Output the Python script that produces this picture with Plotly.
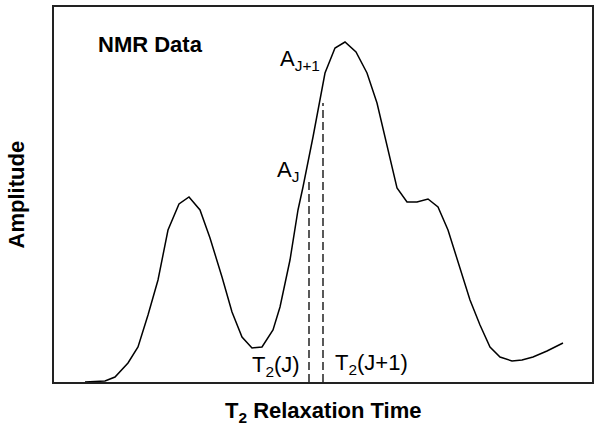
import plotly.graph_objects as go

# T2 relaxation time (arbitrary units) and NMR amplitude (arbitrary units)
t2 = [31, 51, 61, 74, 84, 94, 104, 114, 125, 135, 146, 156, 168, 178, 188, 198, 208,
      219, 226, 236, 244, 249, 259, 271, 281, 291, 302, 313, 323, 333, 343, 353, 363,
      374, 384, 394, 406, 416, 426, 436, 446, 458, 468, 479, 493, 509]
amp = [0, 1, 5, 19, 35, 67, 102, 152, 178, 185, 172, 144, 105, 70, 45, 34, 35,
       52, 75, 122, 172, 195, 245, 309, 334, 340, 330, 309, 279, 237, 194, 180, 180,
       183, 175, 152, 115, 82, 57, 35, 25, 21, 22, 25, 31, 39]

# Marked bins J and J+1
bin_t2 = [255, 269]
bin_amp = [204, 279]
bin_labels = ["T<sub>2</sub>(J)", "T<sub>2</sub>(J+1)"]
amp_labels = ["A<sub>J</sub>", "A<sub>J+1</sub>"]

FONT = "Liberation Sans, Arial, sans-serif"
FS = 22

fig = go.Figure()
fig.add_trace(go.Scatter(x=t2, y=amp, mode="lines",
                         line=dict(color="black", width=1.5), showlegend=False,
                         hoverinfo="skip"))
for xv, yv in zip(bin_t2, bin_amp):
    fig.add_trace(go.Scatter(x=[xv, xv], y=[0, yv], mode="lines",
                             line=dict(color="black", width=1.3, dash="8px,4px"),
                             showlegend=False, hoverinfo="skip"))

def txt(x, y, text, xanchor="left", bold=False, **kw):
    return dict(x=x, y=y, text=f"<b>{text}</b>" if bold else text,
                showarrow=False, xanchor=xanchor, yanchor="middle",
                font=dict(family=FONT, size=FS, color="black"), **kw)

ann = [
    dict(txt(42, 338, "NMR Data", bold=True), xref="x", yref="y"),
    dict(txt(221, 211, amp_labels[0]), xref="x", yref="y"),
    dict(txt(224, 322, amp_labels[1]), xref="x", yref="y"),
    dict(txt(bin_t2[0] - 7, 16, bin_labels[0], xanchor="right"), xref="x", yref="y"),
    dict(txt(bin_t2[1] + 10, 18, bin_labels[1]), xref="x", yref="y"),
    dict(txt(0.5, -0.08, "T<sub>2</sub> Relaxation Time", xanchor="center", bold=True),
         xref="paper", yref="paper"),
    dict(txt(-0.069, 0.5, "Amplitude", xanchor="center", bold=True, textangle=-90),
         xref="paper", yref="paper"),
]

fig.update_layout(
    width=600, height=438,
    margin=dict(l=54, r=8, t=7, b=56),
    paper_bgcolor="white", plot_bgcolor="white",
    annotations=ann,
    xaxis=dict(range=[0, 538], showgrid=False, zeroline=False, showticklabels=False,
               ticks="", showline=True, mirror=True, linecolor="#222", linewidth=1.5,
               automargin=False),
    yaxis=dict(range=[0, 375], showgrid=False, zeroline=False, showticklabels=False,
               ticks="", showline=True, mirror=True, linecolor="#222", linewidth=1.5,
               automargin=False),
)

fig.write_html("out.html", config={"displayModeBar": False},
               post_script="document.body.style.margin='0';document.body.style.padding='0';")
